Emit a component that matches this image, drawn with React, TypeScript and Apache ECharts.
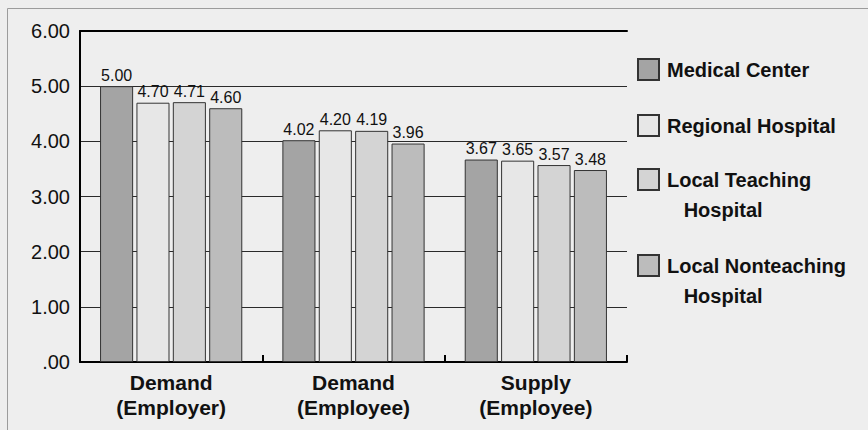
import React, { useEffect, useRef } from "react";
import * as echarts from "echarts";

const categories = ["Demand\n(Employer)", "Demand\n(Employee)", "Supply\n(Employee)"];
const seriesNames = ["Medical Center", "Regional Hospital", "Local Teaching Hospital", "Local Nonteaching Hospital"];
const medicalCenter = [5.0, 4.02, 3.67];
const regionalHospital = [4.7, 4.2, 3.65];
const localTeaching = [4.71, 4.19, 3.57];
const localNonteaching = [4.6, 3.96, 3.48];

const colors = ["#a4a4a4", "#e7e7e7", "#d4d4d4", "#bcbcbc"];
const NB = "\u00a0";
const legendLabels: Record<string, string> = {
  "Medical Center": "Medical Center",
  "Regional Hospital": "Regional Hospital",
  "Local Teaching Hospital": NB + "\nLocal Teaching\n" + NB + NB + NB + "Hospital",
  "Local Nonteaching Hospital": NB + "\nLocal Nonteaching\n" + NB + NB + NB + "Hospital",
};

const LH = 30;

export default function App() {
  const ref = useRef<HTMLDivElement>(null);
  useEffect(() => {
    if (!ref.current) return;
    const chart = echarts.init(ref.current, undefined, { renderer: "svg" });
    const values = [medicalCenter, regionalHospital, localTeaching, localNonteaching];
    const iconTops = [59, 115, 169, 255];
    const multi = [false, false, true, true];
    const legendTops = iconTops.map((t, i) => t - ((multi[i] ? 1.5 : 0.5) * LH - 10.5));
    chart.setOption({
      animation: false,
      backgroundColor: "#eeeeee",
      graphic: [
        {
          type: "rect",
          silent: true,
          z: -10,
          shape: { x: 7.5, y: 8.5, width: 2000, height: 2000 },
          style: { fill: "none", stroke: "#9c9c9c", lineWidth: 1 },
        },
      ],
      grid: { left: 80, right: 241, top: 31, bottom: 68, containLabel: false },
      legend: seriesNames.map((n, i) => ({
        data: [n],
        orient: "vertical",
        left: 637,
        top: legendTops[i],
        padding: 0,
        itemWidth: 21,
        itemHeight: 21,
        icon: "rect",
        selectedMode: false,
        formatter: (name: string) => legendLabels[name],
        textStyle: {
          fontFamily: "Liberation Sans, Arial, sans-serif",
          fontSize: 20,
          fontWeight: "bold",
          color: "#111",
          lineHeight: LH,
          padding: [0, 0, 0, 3],
        },
      })),
      xAxis: [
        {
          type: "category",
          data: categories,
          position: "bottom",
          axisLine: { show: true, lineStyle: { color: "#000", width: 2 } },
          axisTick: { show: true, inside: true, length: 7, lineStyle: { color: "#000", width: 2 } },
          axisLabel: {
            margin: 8,
            color: "#111",
            fontFamily: "Liberation Sans, Arial, sans-serif",
            fontSize: 21,
            fontWeight: "bold",
            lineHeight: 25,
          },
        },
        {
          type: "category",
          data: categories,
          position: "top",
          axisLine: { show: true, lineStyle: { color: "#000", width: 2 } },
          axisTick: { show: false },
          axisLabel: { show: false },
        },
      ],
      yAxis: {
        type: "value",
        min: 0,
        max: 6,
        interval: 1,
        axisLine: { show: true, lineStyle: { color: "#000", width: 2 } },
        axisTick: { show: false },
        splitLine: { show: true, lineStyle: { color: "#2a2a2a", width: 1 } },
        axisLabel: {
          margin: 10,
          color: "#111",
          fontFamily: "Liberation Sans, Arial, sans-serif",
          fontSize: 20,
          formatter: (v: number) => (v === 0 ? ".00" : v.toFixed(2)),
        },
      },
      series: seriesNames.map((n, i) => ({
        name: n,
        type: "bar",
        data: values[i],
        barGap: "10%",
        barCategoryGap: "22%",
        itemStyle: { color: colors[i], borderColor: "#333", borderWidth: 1 },
        label: {
          show: true,
          position: "top",
          distance: 3,
          formatter: (p: any) => Number(p.value).toFixed(2),
          color: "#111",
          fontFamily: "Liberation Sans, Arial, sans-serif",
          fontSize: 16,
        },
      })),
    });
    return () => chart.dispose();
  }, []);
  return (
    <div
      ref={ref}
      style={{ position: "fixed", left: 0, top: 0, width: 868, height: 430 }}
    />
  );
}
